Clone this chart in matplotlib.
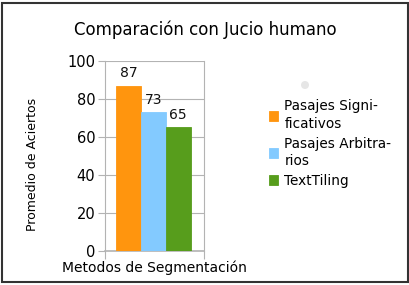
import matplotlib
matplotlib.use("Agg")
import matplotlib.pyplot as plt
from matplotlib.patches import Rectangle, Ellipse

title = "Comparación con Jucio humano"
series = ["Pasajes Signi-\nficativos", "Pasajes Arbitra-\nrios", "TextTiling"]
values = [87, 73, 65]
colors = ["#FF950E", "#83CAFF", "#579D1C"]
yticks = [0, 20, 40, 60, 80, 100]
xlabel = "Metodos de Segmentación"
ylabel = "Promedio de Aciertos"

plt.rcParams['font.family'] = ['DejaVu Sans']
fig = plt.figure(figsize=(4.1, 2.85), dpi=100)
fig.patch.set_facecolor("white")
# outer frame
fig.patches.append(Rectangle((0.006, 0.01), 0.988, 0.98, transform=fig.transFigure,
                             fill=False, edgecolor="#333333", linewidth=1.5))
ax = fig.add_axes([0.256, 0.1193, 0.2415, 0.6667])
w = 0.25
offs = [-w, 0, w]
for i, (lab, v, c) in enumerate(zip(series, values, colors)):
    ax.bar(offs[i] - 0.01, v, width=w, color=c, edgecolor=c, linewidth=0.6, label=lab, zorder=3)
    ax.text(offs[i] - 0.01, v + 3, str(v), ha="center", va="bottom", fontsize=10, color="#111111", zorder=4)
ax.set_xlim(-0.5, 0.5)
ax.set_ylim(0, 100)
ax.set_yticks(yticks)
ax.set_xticks([-0.5, 0.5])
ax.set_xticklabels(["", ""])
ax.tick_params(axis="y", length=5, color="#b3b3b3", labelsize=10.5, pad=2)
ax.tick_params(axis="x", length=6, color="#b3b3b3")
ax.grid(axis="y", color="#b3b3b3", linewidth=0.8, zorder=0)
ax.spines["top"].set_visible(False)
ax.spines["left"].set_color("#b3b3b3")
ax.spines["right"].set_color("#b3b3b3")
ax.spines["bottom"].set_color("#b3b3b3")
ax.spines["bottom"].set_linewidth(1.2)
fig.text(154 / 410, 1 - 268 / 285, xlabel, ha="center", va="center", fontsize=10)
fig.text(33 / 410, 1 - 164 / 285, ylabel, ha="center", va="center", rotation=90, fontsize=9)
fig.text(0.5, 0.895, title, ha="center", va="center", fontsize=12)
fig.patches.append(Ellipse((305 / 410, 1 - 85 / 285), 8 / 410, 8 / 285, transform=fig.transFigure,
                           facecolor="#e6e6e6", edgecolor="none"))
leg = ax.legend(loc="upper left", bbox_to_anchor=(1.6, 0.826), frameon=False, fontsize=9.8,
                handlelength=0.7, handleheight=0.7, handletextpad=0.45, labelspacing=0.45,
                borderaxespad=0)
for t in leg.get_texts():
    t.set_linespacing(1.28)
fig.savefig("out.png", dpi=100)
